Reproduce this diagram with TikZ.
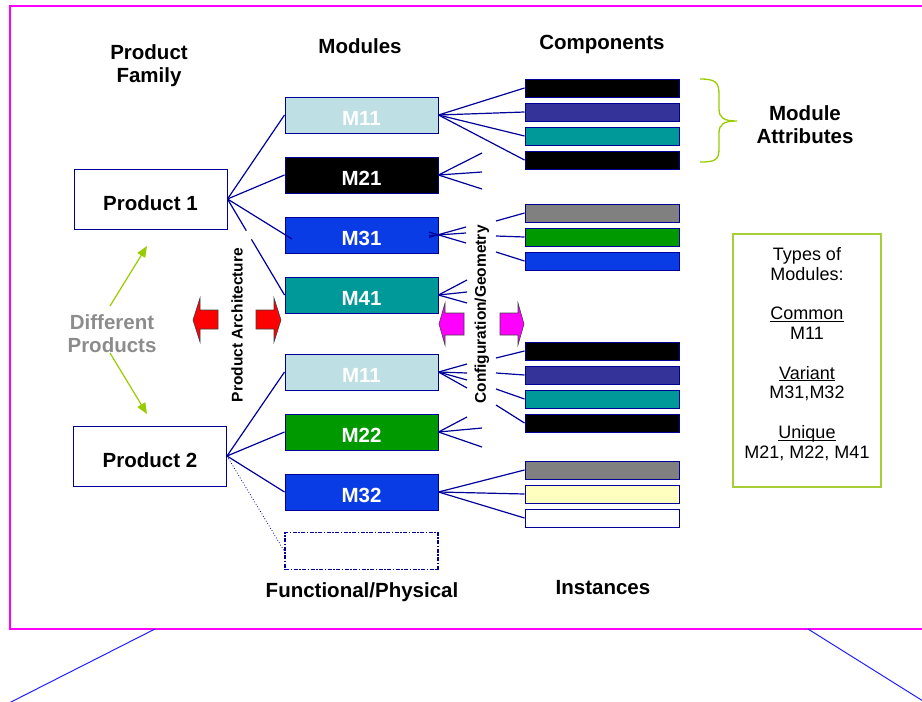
\documentclass[tikz,border=0pt]{standalone}
\usepackage{fontspec}
\setmainfont{Liberation Sans}
\usetikzlibrary{arrows.meta,calc}
\definecolor{navy}{HTML}{000099}
\definecolor{lblue}{HTML}{BEE0E4}
\definecolor{mblue}{HTML}{0A3CE6}
\definecolor{tealx}{HTML}{009999}
\definecolor{greenx}{HTML}{009900}
\definecolor{purpx}{HTML}{333399}
\definecolor{grayx}{HTML}{808080}
\definecolor{lyel}{HTML}{FFFFC0}
\definecolor{limex}{HTML}{99CC00}
\definecolor{limebox}{HTML}{A6CE39}
\definecolor{magx}{HTML}{FF00FF}
\definecolor{txtgray}{HTML}{8C8C8C}
\definecolor{bluex}{HTML}{2020FF}
\newlength\myulw
\newcommand{\myul}[1]{\settowidth{\myulw}{#1}\rlap{\rule[-2.2pt]{\myulw}{0.9pt}}#1}
\begin{document}
\begin{tikzpicture}[x=1pt,y=-1pt,
  bigfont/.style={font=\bfseries\fontsize{20.5}{24}\selectfont},
  modbox/.style={draw=navy, line width=1pt, minimum width=153pt, minimum height=36pt, inner sep=0pt, text=white, bigfont, text height=20.5pt, text depth=0pt},
  compbox/.style={draw=navy, line width=1pt, minimum width=154pt, minimum height=18pt, inner sep=0pt},
  prodbox/.style={draw=navy, line width=1pt, fill=white, minimum width=153pt, minimum height=60pt, inner sep=0pt, bigfont, text height=23pt, text depth=0pt},
  lbl/.style={bigfont, align=center, inner sep=0pt},
  vlbl/.style={font=\bfseries\fontsize{15.5}{18}\selectfont, rotate=90, inner sep=0pt},
  conn/.style={navy, line width=1.2pt},
  blockarrow/.style={draw=black!75, line width=0.6pt}
]
\useasboundingbox (0,0) rectangle (922,702);
% frame
\draw[magx, line width=2pt] (10,6) rectangle (925,629);
\coordinate (fl) at (155,629);
\coordinate (fr) at (808,629);
\coordinate (bl) at (9,703);
\coordinate (br) at (923,701);
\draw[bluex, line width=1pt] (fl) -- (bl);
\draw[bluex, line width=1pt] (fr) -- (br);

% headings
\node[lbl] (hfam) at (149,65.5) {Product\\[-1.5pt]Family};
\node[lbl] (hmod) at (360,46) {Modules};
\node[lbl] (hcomp) at (602,44) {Components};
\node[lbl] (hinst) at (603,588) {Instances};
\node[lbl] (hfun) at (362,592) {Functional/Physical};
\node[lbl] (hatt) at (805,124.5) {Module\\[-1.5pt]Attributes};
\node[lbl, text=txtgray] (hdiff) at (112,333.5) {Different\\[-1.5pt]Products};

% products
\node[prodbox] (p1) at (150.5,199) {Product 1};
\node[prodbox] (p2) at (150,456) {Product 2};

% modules
\node[modbox, fill=lblue] (m11) at (361.5,115) {M11};
\node[modbox, fill=black] (m21) at (361.5,175) {M21};
\node[modbox, fill=mblue] (m31) at (361.5,235) {M31};
\node[modbox, fill=tealx] (m41) at (361.5,295) {M41};
\node[modbox, fill=lblue] (m11b) at (361.5,372) {M11};
\node[modbox, fill=greenx] (m22) at (361.5,432) {M22};
\node[modbox, fill=mblue] (m32) at (361.5,492) {M32};
\node[draw=navy, line width=1.5pt, dash pattern=on 4pt off 1.5pt on 1.5pt off 1.5pt, minimum width=153pt, minimum height=37pt, inner sep=0pt] (mx) at (361.5,551) {};

% components
\node[compbox, fill=black] (a1) at (602,88) {};
\node[compbox, fill=purpx] (a2) at (602,112) {};
\node[compbox, fill=tealx] (a3) at (602,136) {};
\node[compbox, fill=black] (a4) at (602,160) {};
\node[compbox, fill=grayx] (b1) at (602,213) {};
\node[compbox, fill=greenx] (b2) at (602,237) {};
\node[compbox, fill=mblue] (b3) at (602,261) {};
\node[compbox, fill=black] (c1) at (602,351) {};
\node[compbox, fill=purpx] (c2) at (602,375) {};
\node[compbox, fill=tealx] (c3) at (602,399) {};
\node[compbox, fill=black] (c4) at (602,423) {};
\node[compbox, fill=grayx] (d1) at (602,470) {};
\node[compbox, fill=lyel] (d2) at (602,494) {};
\node[compbox, fill=white] (d3) at (602,518) {};

% vertical labels
\node[vlbl] (varch) at (237,325) {Product Architecture};
\node[vlbl] (vconf) at (482,314.5) {Configuration/Geometry};

% product to module connectors
\draw[conn] (p1.east) -- (m11.west);
\draw[conn] (p1.east) -- (m21.west);
\coordinate (m31in) at (292,239);
\draw[conn] (p1.east) -- (m31in);
\draw[conn] (p1.east) -- ($(p1.east)!0.33!(m41.west)$);
\draw[conn] ($(p1.east)!0.42!(m41.west)$) -- (m41.west);
\draw[conn] (p2.east) -- (m11b.west);
\draw[conn] (p2.east) -- (m22.west);
\draw[conn] (p2.east) -- (m32.west);
\draw[navy, line width=0.8pt, dotted] (p2.east) -- (mx.west);

% module to component connectors
\foreach \c in {a1,a2,a3,a4} \draw[conn] (m11.east) -- (\c.west);
\foreach \c in {d1,d2,d3} \draw[conn] (m32.east) -- (\c.west);
% M21 fan
\coordinate (e211) at (482,153);
\coordinate (e212) at (482,172);
\coordinate (e213) at (482,189);
\foreach \c in {e211,e212,e213} \draw[conn] (m21.east) -- (\c);
% M31 fan (crossing)
\coordinate (e311) at (466,227);
\coordinate (e312) at (466,233);
\coordinate (e313) at (466,243);
\coordinate (s311) at (429,237.3);
\coordinate (s312) at (429,235.6);
\coordinate (s313) at (429,232.1);
\draw[conn] (s311) -- (e311);
\draw[conn] (s312) -- (e312);
\draw[conn] (s313) -- (e313);
% M41 fan
\coordinate (e411) at (467,280);
\coordinate (e412) at (467,292);
\coordinate (e413) at (467,303);
\foreach \c in {e411,e412,e413} \draw[conn] (m41.east) -- (\c);
% M11b fan
\coordinate (e111) at (467,364);
\coordinate (e112) at (467,373);
\coordinate (e113) at (467,380);
\coordinate (e114) at (467,388);
\foreach \c in {e111,e112,e113,e114} \draw[conn] (m11b.east) -- (\c);
% M22 fan
\coordinate (e221) at (467,417);
\coordinate (e222) at (482,428);
\coordinate (e223) at (482,447);
\foreach \c in {e221,e222,e223} \draw[conn] (m22.east) -- (\c);
% right side of configuration
\coordinate (fb1) at (496,221);
\coordinate (fb2) at (496,236);
\coordinate (fb3) at (496,252);
\draw[conn] (fb1) -- (b1.west);
\draw[conn] (fb2) -- (b2.west);
\draw[conn] (fb3) -- (b3.west);
\coordinate (fc1) at (496,358);
\coordinate (fc2) at (496,373);
\coordinate (fc3) at (496,389);
\coordinate (fc4) at (496,405);
\draw[conn] (fc1) -- (c1.west);
\draw[conn] (fc2) -- (c2.west);
\draw[conn] (fc3) -- (c3.west);
\draw[conn] (fc4) -- (c4.west);

% block arrows
\draw[blockarrow, fill=red] (218,310) -- (200,310) -- (200,298) -- (193,320) -- (200,342) -- (200,329) -- (218,329) -- cycle;
\draw[blockarrow, fill=red] (256,310) -- (274,310) -- (274,298) -- (281,320) -- (274,342) -- (274,329) -- (256,329) -- cycle;
\draw[blockarrow, fill=magx] (464,313) -- (445,313) -- (445,303) -- (439,324) -- (445,345) -- (445,335) -- (464,335) -- cycle;
\draw[blockarrow, fill=magx] (500,313) -- (518,313) -- (518,303) -- (524,324) -- (518,345) -- (518,335) -- (500,335) -- cycle;

% green arrows
\coordinate (g1s) at (110,306);
\coordinate (g1e) at (147,246);
\coordinate (g2s) at (110,353);
\coordinate (g2e) at (147,414);
\draw[limex, line width=1.2pt, -{Triangle[length=11pt,width=9pt]}] (g1s) -- (g1e);
\draw[limex, line width=1.2pt, -{Triangle[length=11pt,width=9pt]}] (g2s) -- (g2e);

% brace
\draw[limex, line width=1.3pt] (700,79) .. controls (715,79) and (719,82) .. (719,94) -- (719,109) .. controls (719,118) and (724,121) .. (737,121) .. controls (724,121) and (719,124) .. (719,133) -- (719,149) .. controls (719,160) and (715,162) .. (700,162);

% types box
\node[draw=limebox, line width=1.3pt, minimum width=148pt, minimum height=253pt, inner sep=0pt] (tbox) at (807,360.5) {};
\node[align=center, inner sep=0pt, font=\fontsize{18}{19.8}\selectfont] (ttext) at (807,354) {Types of\\Modules:\\[19.8pt]\myul{Common}\\M11\\[19.8pt]\myul{Variant}\\M31,M32\\[19.8pt]\myul{Unique}\\M21, M22, M41};
\end{tikzpicture}
\end{document}
